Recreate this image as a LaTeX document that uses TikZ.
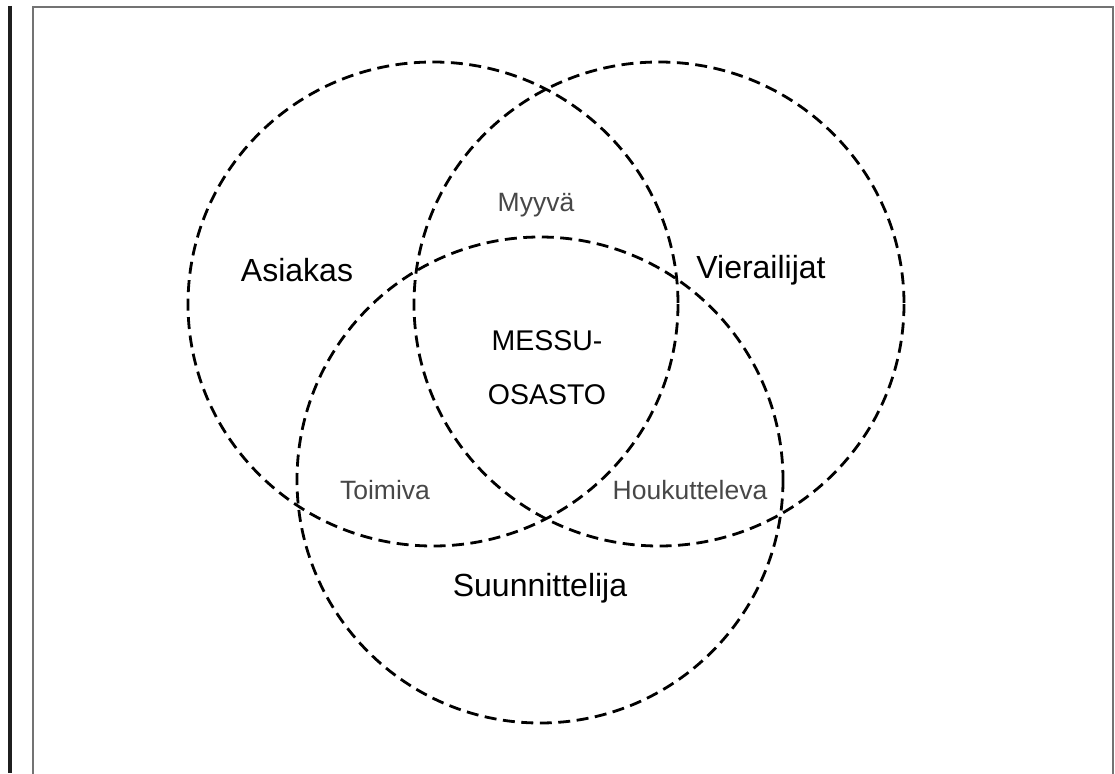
\documentclass[tikz,border=0pt]{standalone}
\usepackage{fontspec}
\setmainfont{Liberation Sans}
\begin{document}
\begin{tikzpicture}[x=1pt,y=-1pt,
  venn/.style={draw=black,line width=2.8pt,dash pattern=on 12pt off 6.5pt},
  big/.style={font=\fontsize{32}{36}\selectfont,text=black,inner sep=0pt},
  mid/.style={font=\fontsize{28.5}{54}\selectfont,text=black,inner sep=0pt,align=center},
  small/.style={font=\fontsize{26.5}{30}\selectfont,text=black!72,inner sep=0pt},
  frame/.style={draw=black!55,line width=2pt},
  bar/.style={draw=black!88,line width=4pt}]
\useasboundingbox (0,0) rectangle (1115,773);
% borders
\draw[bar] (9.5,6) -- (9.5,773);
\draw[frame] (33,780) -- (33,7) -- (1113,7) -- (1113,780);
% circles
\draw[venn] (433,304) ellipse [x radius=245, y radius=242];
\draw[venn] (659,304) ellipse [x radius=245, y radius=242];
\draw[venn] (540,480) ellipse [x radius=243, y radius=243];
% labels
\node[big] (asiakas) at (297,270) {Asiakas};
\node[big] (vierailijat) at (761,270) {Vierailijat};
\node[big] (suunnittelija) at (540,588) {Suunnittelija};
\node[mid] (messu) at (547,341) {MESSU-};
\node[mid] (osasto) at (547,395) {OSASTO};
\node[small] (myyva) at (536,205) {Myyvä};
\node[small] (toimiva) at (385,490) {Toimiva};
\node[small] (houkutteleva) at (690,490) {Houkutteleva};
\end{tikzpicture}
\end{document}
